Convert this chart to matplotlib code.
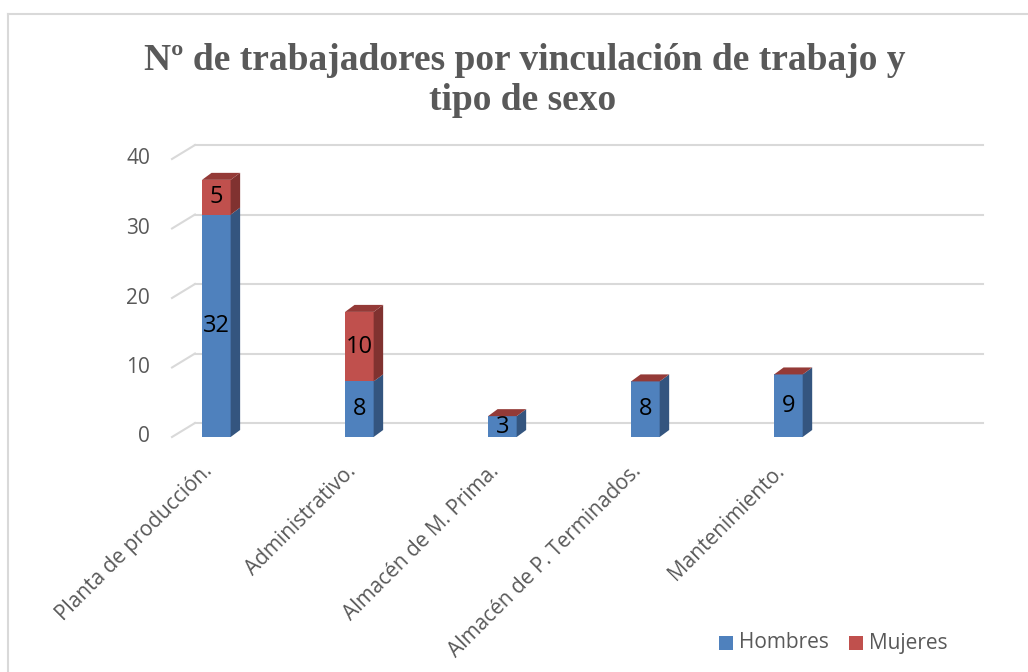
import matplotlib
matplotlib.use("Agg")
import matplotlib.pyplot as plt
import matplotlib.transforms as mtransforms
from matplotlib.patches import Polygon, Rectangle
from matplotlib.lines import Line2D

categorias = ["Planta de producción.", "Administrativo.", "Almacén de M. Prima.",
              "Almacén de P. Terminados.", "Mantenimiento."]
hombres = [32, 8, 3, 8, 9]
mujeres = [5, 10, 0, 0, 0]
yticks = [0, 10, 20, 30, 40]

azul, azul_lado = "#4F81BD", "#34557F"
rojo, rojo_lado, rojo_top = "#C0504D", "#803230", "#943A37"
gris = "#595959"

fig = plt.figure(figsize=(10.28, 6.72), dpi=100)
ax = fig.add_axes([172 / 1028, 1 - 437 / 672, 788 / 1028, 278 / 672])
ax.set_xlim(-0.31, 5.2)
ax.set_ylim(0, 40)
ax.axis("off")

# marco del grafico (solo borde superior e izquierdo visibles)
fig.add_artist(Line2D([8 / 1028, 1], [1 - 14 / 672, 1 - 14 / 672], color="#D9D9D9", lw=1.5))
fig.add_artist(Line2D([8 / 1028, 8 / 1028], [0, 1 - 14 / 672], color="#D9D9D9", lw=1.5))

# pared del fondo: lineas de cuadricula desplazadas
back = ax.transData + mtransforms.ScaledTranslation(23 / 100, 14 / 100, fig.dpi_scale_trans)
lab = ax.transData + mtransforms.ScaledTranslation(-22 / 100, 0, fig.dpi_scale_trans)
x0, x1 = ax.get_xlim()
for v in yticks:
    ax.plot([x0, x1], [v, v], color="#D9D9D9", lw=1.5, transform=back, clip_on=False, zorder=0)
    p0 = ax.transData.transform((x0, v))
    p1 = back.transform((x0, v))
    fig.add_artist(Line2D([p0[0] / 1028, p1[0] / 1028], [p0[1] / 672, p1[1] / 672],
                          color="#D9D9D9", lw=1.5))
    ax.text(x0, v, str(v), transform=lab, ha="right", va="center", fontsize=15,
            color=gris, family="Open Sans")

# barras 3D
w = 0.2
dx, dy = 9.5, 7
off = mtransforms.offset_copy(ax.transData, fig=fig, x=dx, y=dy, units="dots")
for i, (h, m) in enumerate(zip(hombres, mujeres)):
    segs = [(0, h, azul, azul_lado), (h, m, rojo, rojo_lado)]
    for base, val, cf, cs in segs:
        if val <= 0:
            continue
        ax.bar(i, val, w, bottom=base, color=cf, zorder=3)
        xr = i + w / 2
        fr = ax.transData.transform([(xr, base), (xr, base + val)])
        bk = off.transform([(xr, base + val), (xr, base)])
        fig.add_artist(Polygon(list(fr) + list(bk), closed=True, transform=None,
                               facecolor=cs, edgecolor="none", zorder=4))
    top = h + m
    ft = ax.transData.transform([(i - w / 2, top), (i + w / 2, top)])
    bt = off.transform([(i + w / 2, top), (i - w / 2, top)])
    fig.add_artist(Polygon(list(ft) + list(bt), closed=True, transform=None,
                           facecolor=rojo_top, edgecolor="none", zorder=4))
    ax.text(i, h / 2, str(h), ha="center", va="center", fontsize=17, color="black",
            family="Open Sans", zorder=5)
    if m > 0:
        ax.text(i, h + m / 2, str(m), ha="center", va="center", fontsize=17, color="black",
                family="Open Sans", zorder=5)

# etiquetas de categoria
for i, c in enumerate(categorias):
    ax.text(i - 0.1, -3.45, c, rotation=45, rotation_mode="anchor", ha="right", va="top",
            fontsize=15, color=gris, family="Open Sans")

fig.text(525 / 1028, 1 - 70 / 672, "Nº de trabajadores por vinculación de trabajo y",
         ha="center", va="baseline", fontsize=27, fontweight="bold", color=gris,
         family="Liberation Serif")
fig.text(523 / 1028, 1 - 110 / 672, "tipo de sexo", ha="center", va="baseline", fontsize=27,
         fontweight="bold", color=gris, family="Liberation Serif")

# leyenda
fig.patches.append(Rectangle((719 / 1028, 1 - 650 / 672), 14 / 1028, 14 / 672,
                             transform=fig.transFigure, facecolor=azul, edgecolor="none"))
fig.text(739 / 1028, 1 - 643 / 672, "Hombres", ha="left", va="center", fontsize=15,
         color=gris, family="Open Sans")
fig.patches.append(Rectangle((849 / 1028, 1 - 650 / 672), 14 / 1028, 14 / 672,
                             transform=fig.transFigure, facecolor=rojo, edgecolor="none"))
fig.text(869 / 1028, 1 - 643 / 672, "Mujeres", ha="left", va="center", fontsize=15,
         color=gris, family="Open Sans")

fig.savefig("out.png", dpi=100)
